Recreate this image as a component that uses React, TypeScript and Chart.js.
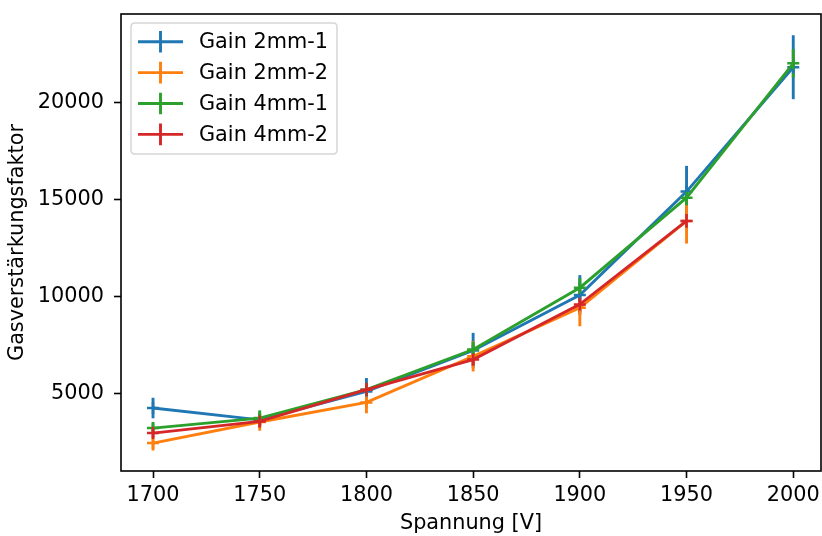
import React, { useEffect, useRef } from "react";
import { Chart, registerables } from "chart.js";

Chart.register(...registerables);

const voltages = [1700, 1750, 1800, 1850, 1900, 1950, 2000];
const gain2mm1 = [4240, 3630, 5100, 7210, 10070, 15410, 21830];
const err2mm1 = [530, 250, 690, 910, 1030, 1330, 1650];
const gain2mm2 = [2430, 3520, 4530, 6910, 9410, 13900];
const err2mm2 = [380, 450, 560, 780, 950, 1170];
const gain4mm1 = [3205, 3720, 5190, 7260, 10450, 15100, 22030];
const err4mm1 = [290, 400, 300, 400, 500, 400, 730];
const gain4mm2 = [2946, 3550, 5190, 6740, 9590, 13900];
const err4mm2 = [220, 300, 350, 300, 400, 350];

const seriesNames = ["Gain 2mm-1", "Gain 2mm-2", "Gain 4mm-1", "Gain 4mm-2"];
const seriesValues = [gain2mm1, gain2mm2, gain4mm1, gain4mm2];
const seriesErrors = [err2mm1, err2mm2, err4mm1, err4mm2];
const colors = ["#1f77b4", "#ff7f0e", "#2ca02c", "#d62728"];

const xTicks = [1700, 1750, 1800, 1850, 1900, 1950, 2000];
const yTicks = [5000, 10000, 15000, 20000];
const xMin = 1685;
const xMax = 2013;
const yMin = 991;
const yMax = 24577;

const xTitle = "Spannung [V]";
const yTitle = "Gasverstärkungsfaktor";

const FONT = "'DejaVu Sans', sans-serif";
const FS = 20.8;

const errorBarPlugin = {
  id: "errorBars",
  beforeDatasetsDraw(chart: any) {
    const ctx = chart.ctx;
    const xs = chart.scales.x;
    const ys = chart.scales.y;
    ctx.save();
    ctx.lineWidth = 2.9;
    ctx.lineCap = "butt";
    seriesValues.forEach((vals, si) => {
      ctx.strokeStyle = colors[si];
      vals.forEach((v, i) => {
        const e = seriesErrors[si][i];
        const px = xs.getPixelForValue(voltages[i]);
        ctx.beginPath();
        ctx.moveTo(px, ys.getPixelForValue(v - e));
        ctx.lineTo(px, ys.getPixelForValue(v + e));
        ctx.stroke();
      });
    });
    ctx.restore();
  },
};

const framePlugin = {
  id: "frameAndLegend",
  afterDraw(chart: any) {
    const ctx = chart.ctx;
    const a = chart.chartArea;
    ctx.save();
    ctx.strokeStyle = "#000";
    ctx.lineWidth = 1.6;
    ctx.strokeRect(a.left, a.top, a.right - a.left, a.bottom - a.top);

    // legend
    const x0 = a.left + 10;
    const y0 = a.top + 9;
    const w = 206;
    const h = 131;
    const r = 4;
    ctx.beginPath();
    ctx.moveTo(x0 + r, y0);
    ctx.lineTo(x0 + w - r, y0);
    ctx.quadraticCurveTo(x0 + w, y0, x0 + w, y0 + r);
    ctx.lineTo(x0 + w, y0 + h - r);
    ctx.quadraticCurveTo(x0 + w, y0 + h, x0 + w - r, y0 + h);
    ctx.lineTo(x0 + r, y0 + h);
    ctx.quadraticCurveTo(x0, y0 + h, x0, y0 + h - r);
    ctx.lineTo(x0, y0 + r);
    ctx.quadraticCurveTo(x0, y0, x0 + r, y0);
    ctx.closePath();
    ctx.fillStyle = "rgba(255,255,255,0.8)";
    ctx.fill();
    ctx.strokeStyle = "#d6d6d6";
    ctx.lineWidth = 1.5;
    ctx.stroke();

    ctx.font = `${FS}px ${FONT}`;
    ctx.textBaseline = "middle";
    ctx.textAlign = "left";
    seriesNames.forEach((name, i) => {
      const cy = y0 + 18.7 + i * 30.9;
      ctx.strokeStyle = colors[i];
      ctx.lineWidth = 2.9;
      ctx.beginPath();
      ctx.moveTo(x0 + 7, cy);
      ctx.lineTo(x0 + 52, cy);
      ctx.moveTo(x0 + 29.5, cy - 10.8);
      ctx.lineTo(x0 + 29.5, cy + 10.8);
      ctx.stroke();
      ctx.fillStyle = "#000";
      ctx.fillText(name, x0 + 68, cy + 1);
    });
    ctx.restore();
  },
};

export default function App() {
  const ref = useRef<HTMLCanvasElement | null>(null);

  useEffect(() => {
    if (!ref.current) return;
    const datasets = seriesValues.map((vals, si) => ({
      label: seriesNames[si],
      data: vals.map((v, i) => ({ x: voltages[i], y: v })),
      borderColor: colors[si],
      backgroundColor: colors[si],
      borderWidth: 2.9,
      pointStyle: "cross",
      pointRadius: 6,
      pointBorderWidth: 2.5,
      pointBorderColor: colors[si],
      pointHoverRadius: 6,
      fill: false,
      tension: 0,
      order: seriesValues.length - si,
      clip: false as any,
    }));

    const chart = new Chart(ref.current, {
      type: "line",
      data: { datasets },
      plugins: [errorBarPlugin, framePlugin],
      options: {
        responsive: false,
        animation: false,
        devicePixelRatio: 1,
        layout: { autoPadding: false, padding: { left: 0, top: 14, right: 1, bottom: 0 } },
        plugins: {
          legend: { display: false },
          tooltip: { enabled: false },
        },
        scales: {
          x: {
            type: "linear",
            min: xMin,
            max: xMax,
            afterBuildTicks: (s: any) => {
              s.ticks = xTicks.map((v) => ({ value: v }));
            },
            afterFit: (s: any) => {
              s.height = 65;
              s.paddingLeft = 0;
              s.paddingRight = 0;
            },
            border: { display: false },
            grid: {
              display: true,
              drawOnChartArea: false,
              drawTicks: true,
              tickLength: 7,
              tickWidth: 1.6,
              tickColor: "#000",
            },
            ticks: {
              color: "#000",
              font: { family: FONT, size: FS },
              padding: 5,
              maxRotation: 0,
              autoSkip: false,
              callback: (v: any) => String(v),
            },
            title: {
              display: true,
              text: xTitle,
              color: "#000",
              font: { family: FONT, size: FS },
              padding: { top: 0, bottom: 0 },
            },
          },
          y: {
            type: "linear",
            min: yMin,
            max: yMax,
            afterBuildTicks: (s: any) => {
              s.ticks = yTicks.map((v) => ({ value: v }));
            },
            afterFit: (s: any) => {
              s.width = 121;
              s.paddingTop = 0;
              s.paddingBottom = 0;
            },
            border: { display: false },
            grid: {
              display: true,
              drawOnChartArea: false,
              drawTicks: true,
              tickLength: 7,
              tickWidth: 1.6,
              tickColor: "#000",
            },
            ticks: {
              color: "#000",
              font: { family: FONT, size: FS },
              padding: 10,
              autoSkip: false,
              callback: (v: any) => String(v),
            },
            title: {
              display: true,
              text: yTitle,
              color: "#000",
              font: { family: FONT, size: FS },
              padding: { top: 5, bottom: 0 },
            },
          },
        },
      } as any,
    });
    return () => chart.destroy();
  }, []);

  return (
    <div style={{ position: "absolute", left: 0, top: 0, width: 822, height: 536 }}>
      <canvas ref={ref} width={822} height={536} style={{ width: 822, height: 536 }} />
    </div>
  );
}
